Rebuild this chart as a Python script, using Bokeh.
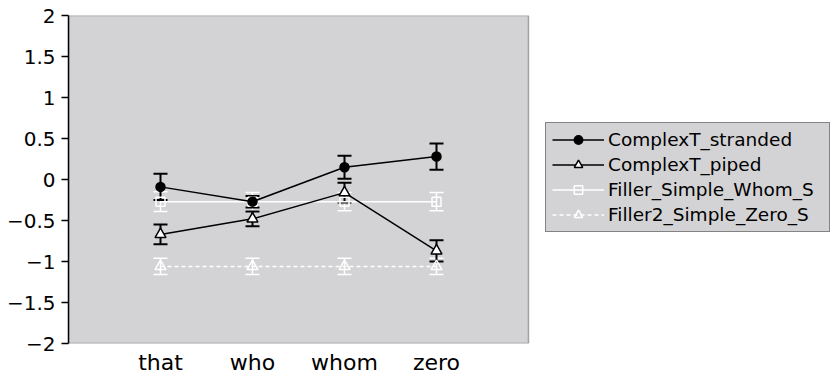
from bokeh.plotting import figure
from bokeh.models import (ColumnDataSource, Whisker, TeeHead, Legend, LegendItem,
                          FixedTicker, CustomJSTickFormatter, Range1d, BoxAnnotation)
from bokeh.embed import file_html
from bokeh.resources import INLINE

categories = ["that", "who", "whom", "zero"]
xpos = [1, 2, 3, 4]

stranded = [-0.09, -0.27, 0.15, 0.28]
stranded_err = [0.16, 0.07, 0.14, 0.16]
piped = [-0.67, -0.48, -0.16, -0.87]
piped_err = [0.12, 0.09, 0.12, 0.13]
whom_s = [-0.27, -0.27, -0.27, -0.27]
whom_s_err = [0.12, 0.11, 0.11, 0.11]
zero_s = [-1.06, -1.06, -1.06, -1.06]
zero_s_err = [0.10, 0.10, 0.10, 0.10]

y_ticks = [-2, -1.5, -1, -0.5, 0, 0.5, 1, 1.5, 2]
x_min, x_max = 0, 5
y_min, y_max = -2, 2

FONT = "DejaVu Sans"
BG = "#d3d3d5"

# frame spans to the right edge; the gray plotting area is the box x 0..5
p = figure(width=834, height=377, output_backend="svg", toolbar_location=None,
           x_range=Range1d(0, 8.326), y_range=Range1d(y_min, y_max),
           min_border_left=68, min_border_top=15, min_border_bottom=33,
           min_border_right=0)
p.background_fill_color = "white"
p.border_fill_color = "white"
p.outline_line_color = None
p.grid.visible = False

box = BoxAnnotation(left=x_min, right=x_max, bottom=y_min, top=y_max,
                    fill_color=BG, fill_alpha=1.0, line_color="black",
                    line_width=1.5, level="underlay")
p.add_layout(box)

p.xaxis.ticker = FixedTicker(ticks=xpos)
p.xaxis.major_label_overrides = {x: c for x, c in zip(xpos, categories)}
p.xaxis.major_tick_line_color = None
p.xaxis.major_tick_out = 0
p.xaxis.major_tick_in = 0
p.xaxis.minor_tick_line_color = None
p.xaxis.axis_line_color = None
p.xaxis.major_label_text_font = FONT
p.xaxis.major_label_text_font_size = "22px"
p.xaxis.major_label_text_color = "black"
p.xaxis.major_label_standoff = 6

p.yaxis.ticker = FixedTicker(ticks=y_ticks)
p.yaxis.formatter = CustomJSTickFormatter(code="return tick.toString().replace('-', '\u2212');")
p.yaxis.major_tick_out = 7
p.yaxis.major_tick_in = 0
p.yaxis.minor_tick_line_color = None
p.yaxis.axis_line_width = 1.5
p.yaxis.major_tick_line_width = 1.5
p.yaxis.major_label_text_font = FONT
p.yaxis.major_label_text_font_size = "20px"
p.yaxis.major_label_text_color = "black"
p.yaxis.major_label_standoff = 6


def series(vals, errs, color, dash, marker, fill, size, lw, ewidth):
    src = ColumnDataSource(dict(x=xpos, y=vals,
                                lo=[v - e for v, e in zip(vals, errs)],
                                hi=[v + e for v, e in zip(vals, errs)]))
    w = Whisker(source=src, base="x", upper="hi", lower="lo",
                line_color=color, line_width=ewidth,
                upper_head=TeeHead(size=14, line_color=color, line_width=ewidth),
                lower_head=TeeHead(size=14, line_color=color, line_width=ewidth))
    p.add_layout(w)
    lr = p.line("x", "y", source=src, line_color=color, line_width=lw, line_dash=dash)
    sr = p.scatter("x", "y", source=src, marker=marker, size=size,
                   fill_color=fill, line_color=color, line_width=1.5)
    return [lr, sr]


r_whom = series(whom_s, whom_s_err, "white", "solid", "square", None, 9, 1.5, 1.5)
r_zero = series(zero_s, zero_s_err, "white", "4 3", "triangle", None, 11, 1.5, 1.5)
r_str = series(stranded, stranded_err, "black", "solid", "circle", "black", 9, 1.5, 2)
r_pip = series(piped, piped_err, "black", "solid", "triangle", "white", 11, 1.5, 2)

legend = Legend(items=[
    LegendItem(label="ComplexT_stranded", renderers=r_str),
    LegendItem(label="ComplexT_piped", renderers=r_pip),
    LegendItem(label="Filler_Simple_Whom_S", renderers=r_whom),
    LegendItem(label="Filler2_Simple_Zero_S", renderers=r_zero),
], location=(477, 111))
legend.label_text_font = FONT
legend.label_text_font_size = "18.5px"
legend.label_text_color = "black"
legend.glyph_width = 52
legend.glyph_height = 21
legend.label_height = 21
legend.label_width = 215
legend.label_standoff = 4
legend.spacing = 4
legend.padding = 6
legend.margin = 0
legend.background_fill_color = BG
legend.background_fill_alpha = 1.0
legend.border_line_color = "#333333"
legend.border_line_width = 1.5
p.add_layout(legend)

open("out.html", "w").write(file_html(p, INLINE))
